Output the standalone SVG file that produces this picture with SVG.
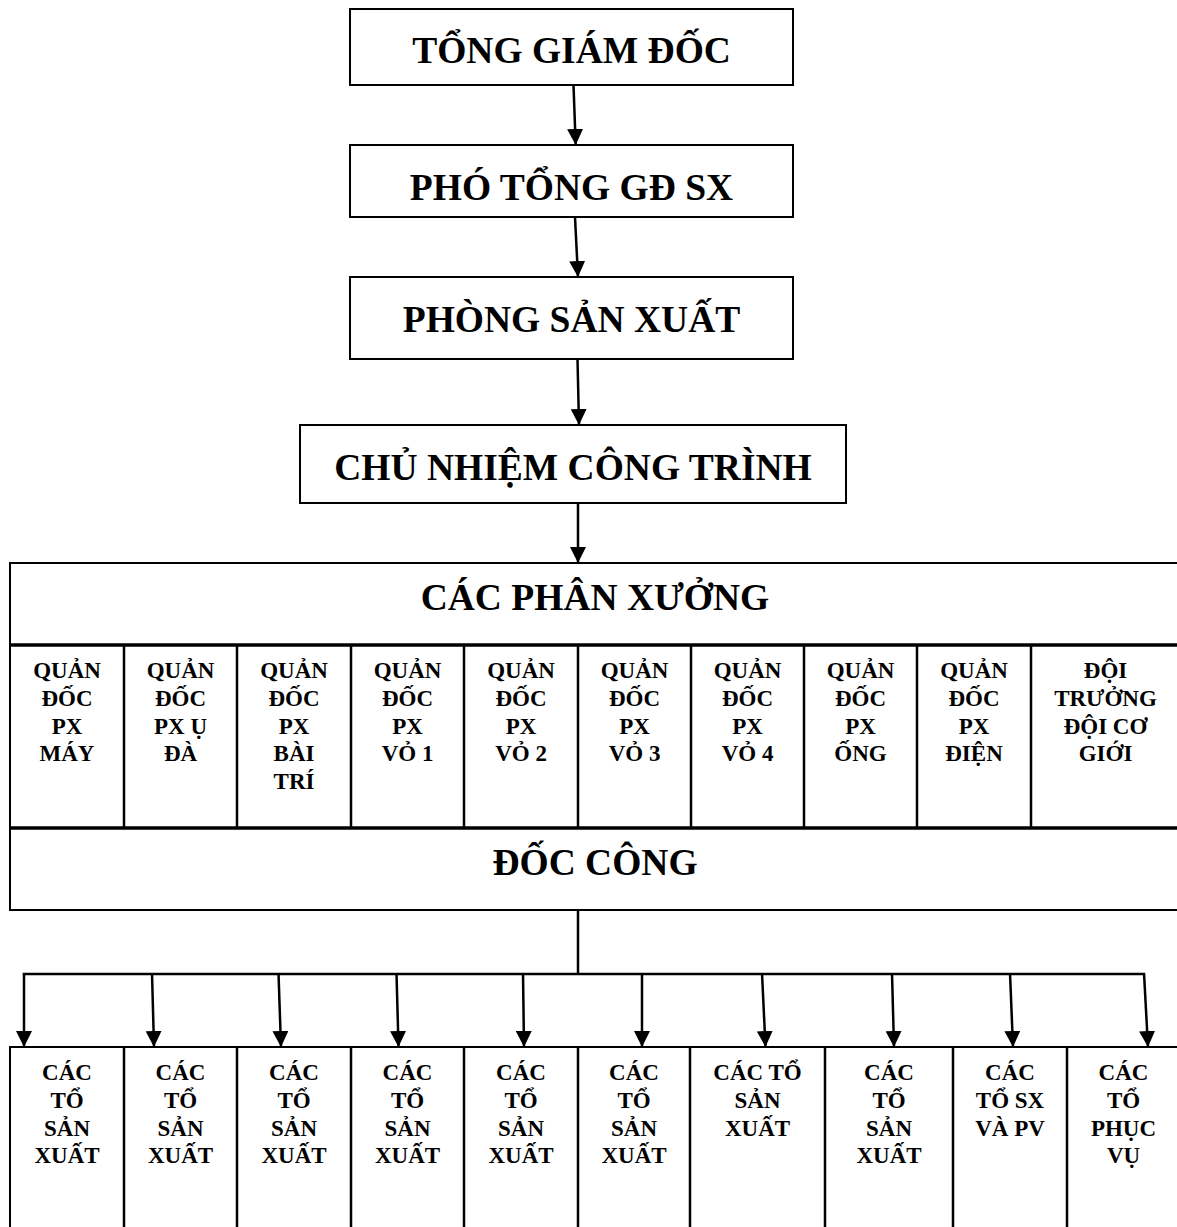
<svg xmlns="http://www.w3.org/2000/svg" width="1177" height="1227" viewBox="0 0 1177 1227">
  <style>
    .box { fill: #fff; stroke: #000; stroke-width: 2; }
    .sep { stroke: #000; stroke-width: 3.5; fill: none; }
    .div { stroke: #000; stroke-width: 2.5; fill: none; }
    .conn { stroke: #000; stroke-width: 2.5; fill: none; }
    .arrow { stroke: #000; stroke-width: 2.5; fill: none; marker-end: url(#head); }
    text { font-family: "Liberation Serif", "Times New Roman", serif; font-weight: bold; fill: #000; text-anchor: middle; }
    .big { font-size: 37.5px; }
    .small { font-size: 23px; }
  </style>
  <defs>
    <marker id="head" markerUnits="userSpaceOnUse" markerWidth="16" markerHeight="16" refX="16" refY="8" orient="auto">
      <path d="M0,0 L16,8 L0,16 z" fill="#000"/>
    </marker>
  </defs>
  <rect width="1177" height="1227" fill="#fff"/>

  <!-- top chain of command -->
  <g id="tong-giam-doc">
    <rect class="box" x="350" y="9" width="443" height="76"/>
    <text class="big" x="571.5" y="63">TỔNG GIÁM ĐỐC</text>
  </g>
  <g id="pho-tong-gd">
    <rect class="box" x="350" y="145" width="443" height="72"/>
    <text class="big" x="571.5" y="200">PHÓ TỔNG GĐ SX</text>
  </g>
  <g id="phong-san-xuat">
    <rect class="box" x="350" y="277" width="443" height="82"/>
    <text class="big" x="571.5" y="332">PHÒNG SẢN XUẤT</text>
  </g>
  <g id="chu-nhiem">
    <rect class="box" x="300" y="425" width="546" height="78"/>
    <text class="big" x="573" y="480">CHỦ NHIỆM CÔNG TRÌNH</text>
  </g>

  <!-- workshops block -->
  <g id="cac-phan-xuong">
    <rect class="box" x="10" y="563" width="1170" height="347"/>
    <line class="sep" x1="10" y1="645" x2="1180" y2="645"/>
    <line class="sep" x1="10" y1="828" x2="1180" y2="828"/>
    <text class="big" x="595" y="610">CÁC PHÂN XƯỞNG</text>
    <g class="div">
      <line x1="124" y1="645" x2="124" y2="828"/>
      <line x1="237" y1="645" x2="237" y2="828"/>
      <line x1="351" y1="645" x2="351" y2="828"/>
      <line x1="464" y1="645" x2="464" y2="828"/>
      <line x1="578" y1="645" x2="578" y2="828"/>
      <line x1="691" y1="645" x2="691" y2="828"/>
      <line x1="804" y1="645" x2="804" y2="828"/>
      <line x1="917" y1="645" x2="917" y2="828"/>
      <line x1="1031" y1="645" x2="1031" y2="828"/>
    </g>
  </g>
  <g id="quan-doc-may" class="small">
    <text class="small" x="67" y="678">QUẢN</text>
    <text class="small" x="67" y="706">ĐỐC</text>
    <text class="small" x="67" y="734">PX</text>
    <text class="small" x="67" y="761">MÁY</text>
  </g>
  <g id="quan-doc-u-da">
    <text class="small" x="180.5" y="678">QUẢN</text>
    <text class="small" x="180.5" y="706">ĐỐC</text>
    <text class="small" x="180.5" y="734">PX Ụ</text>
    <text class="small" x="180.5" y="761">ĐÀ</text>
  </g>
  <g id="quan-doc-bai-tri">
    <text class="small" x="294" y="678">QUẢN</text>
    <text class="small" x="294" y="706">ĐỐC</text>
    <text class="small" x="294" y="734">PX</text>
    <text class="small" x="294" y="761">BÀI</text>
    <text class="small" x="294" y="789">TRÍ</text>
  </g>
  <g id="quan-doc-vo1">
    <text class="small" x="407.5" y="678">QUẢN</text>
    <text class="small" x="407.5" y="706">ĐỐC</text>
    <text class="small" x="407.5" y="734">PX</text>
    <text class="small" x="407.5" y="761">VỎ 1</text>
  </g>
  <g id="quan-doc-vo2">
    <text class="small" x="521" y="678">QUẢN</text>
    <text class="small" x="521" y="706">ĐỐC</text>
    <text class="small" x="521" y="734">PX</text>
    <text class="small" x="521" y="761">VỎ 2</text>
  </g>
  <g id="quan-doc-vo3">
    <text class="small" x="634.5" y="678">QUẢN</text>
    <text class="small" x="634.5" y="706">ĐỐC</text>
    <text class="small" x="634.5" y="734">PX</text>
    <text class="small" x="634.5" y="761">VỎ 3</text>
  </g>
  <g id="quan-doc-vo4">
    <text class="small" x="747.5" y="678">QUẢN</text>
    <text class="small" x="747.5" y="706">ĐỐC</text>
    <text class="small" x="747.5" y="734">PX</text>
    <text class="small" x="747.5" y="761">VỎ 4</text>
  </g>
  <g id="quan-doc-ong">
    <text class="small" x="860.5" y="678">QUẢN</text>
    <text class="small" x="860.5" y="706">ĐỐC</text>
    <text class="small" x="860.5" y="734">PX</text>
    <text class="small" x="860.5" y="761">ỐNG</text>
  </g>
  <g id="quan-doc-dien">
    <text class="small" x="974" y="678">QUẢN</text>
    <text class="small" x="974" y="706">ĐỐC</text>
    <text class="small" x="974" y="734">PX</text>
    <text class="small" x="974" y="761">ĐIỆN</text>
  </g>
  <g id="doi-co-gioi">
    <text class="small" x="1105.5" y="678">ĐỘI</text>
    <text class="small" x="1105.5" y="706">TRƯỞNG</text>
    <text class="small" x="1105.5" y="734">ĐỘI CƠ</text>
    <text class="small" x="1105.5" y="761">GIỚI</text>
  </g>
  <g id="doc-cong">
    <text class="big" x="595" y="875">ĐỐC CÔNG</text>
  </g>

  <!-- production teams row -->
  <g id="cac-to">
    <rect class="box" x="10" y="1047" width="1170" height="200"/>
    <g class="div">
      <line x1="124" y1="1047" x2="124" y2="1227"/>
      <line x1="237" y1="1047" x2="237" y2="1227"/>
      <line x1="351" y1="1047" x2="351" y2="1227"/>
      <line x1="464" y1="1047" x2="464" y2="1227"/>
      <line x1="578" y1="1047" x2="578" y2="1227"/>
      <line x1="690" y1="1047" x2="690" y2="1227"/>
      <line x1="825" y1="1047" x2="825" y2="1227"/>
      <line x1="953" y1="1047" x2="953" y2="1227"/>
      <line x1="1067" y1="1047" x2="1067" y2="1227"/>
    </g>
  </g>
  <g id="to-sx-1">
    <text class="small" x="67" y="1080">CÁC</text>
    <text class="small" x="67" y="1108">TỔ</text>
    <text class="small" x="67" y="1136">SẢN</text>
    <text class="small" x="67" y="1163">XUẤT</text>
  </g>
  <g id="to-sx-2">
    <text class="small" x="180.5" y="1080">CÁC</text>
    <text class="small" x="180.5" y="1108">TỔ</text>
    <text class="small" x="180.5" y="1136">SẢN</text>
    <text class="small" x="180.5" y="1163">XUẤT</text>
  </g>
  <g id="to-sx-3">
    <text class="small" x="294" y="1080">CÁC</text>
    <text class="small" x="294" y="1108">TỔ</text>
    <text class="small" x="294" y="1136">SẢN</text>
    <text class="small" x="294" y="1163">XUẤT</text>
  </g>
  <g id="to-sx-4">
    <text class="small" x="407.5" y="1080">CÁC</text>
    <text class="small" x="407.5" y="1108">TỔ</text>
    <text class="small" x="407.5" y="1136">SẢN</text>
    <text class="small" x="407.5" y="1163">XUẤT</text>
  </g>
  <g id="to-sx-5">
    <text class="small" x="521" y="1080">CÁC</text>
    <text class="small" x="521" y="1108">TỔ</text>
    <text class="small" x="521" y="1136">SẢN</text>
    <text class="small" x="521" y="1163">XUẤT</text>
  </g>
  <g id="to-sx-6">
    <text class="small" x="634" y="1080">CÁC</text>
    <text class="small" x="634" y="1108">TỔ</text>
    <text class="small" x="634" y="1136">SẢN</text>
    <text class="small" x="634" y="1163">XUẤT</text>
  </g>
  <g id="to-sx-7">
    <text class="small" x="757.5" y="1080">CÁC TỔ</text>
    <text class="small" x="757.5" y="1108">SẢN</text>
    <text class="small" x="757.5" y="1136">XUẤT</text>
  </g>
  <g id="to-sx-8">
    <text class="small" x="889" y="1080">CÁC</text>
    <text class="small" x="889" y="1108">TỔ</text>
    <text class="small" x="889" y="1136">SẢN</text>
    <text class="small" x="889" y="1163">XUẤT</text>
  </g>
  <g id="to-sx-pv">
    <text class="small" x="1010" y="1080">CÁC</text>
    <text class="small" x="1010" y="1108">TỔ SX</text>
    <text class="small" x="1010" y="1136">VÀ PV</text>
  </g>
  <g id="to-phuc-vu">
    <text class="small" x="1123.5" y="1080">CÁC</text>
    <text class="small" x="1123.5" y="1108">TỔ</text>
    <text class="small" x="1123.5" y="1136">PHỤC</text>
    <text class="small" x="1123.5" y="1163">VỤ</text>
  </g>

  <!-- connectors -->
  <g id="connectors">
    <line class="arrow" x1="573.5" y1="85" x2="575.7" y2="145"/>
    <line class="arrow" x1="575" y1="217" x2="578" y2="277"/>
    <line class="arrow" x1="577.5" y1="359" x2="579" y2="425"/>
    <line class="arrow" x1="578" y1="503" x2="578" y2="563"/>
    <line class="conn" x1="578" y1="910" x2="578" y2="974"/>
    <line class="conn" x1="22.8" y1="974" x2="1145" y2="974"/>
    <line class="arrow" x1="24" y1="973" x2="24" y2="1047"/>
    <line class="arrow" x1="152" y1="973" x2="154" y2="1047"/>
    <line class="arrow" x1="278.5" y1="973" x2="281" y2="1047"/>
    <line class="arrow" x1="396.5" y1="973" x2="398.5" y2="1047"/>
    <line class="arrow" x1="523" y1="973" x2="524" y2="1047"/>
    <line class="arrow" x1="642" y1="973" x2="642" y2="1047"/>
    <line class="arrow" x1="762" y1="973" x2="765.5" y2="1047"/>
    <line class="arrow" x1="892" y1="973" x2="894" y2="1047"/>
    <line class="arrow" x1="1010" y1="973" x2="1013" y2="1047"/>
    <line class="arrow" x1="1144" y1="973" x2="1148" y2="1047"/>
  </g>
</svg>
